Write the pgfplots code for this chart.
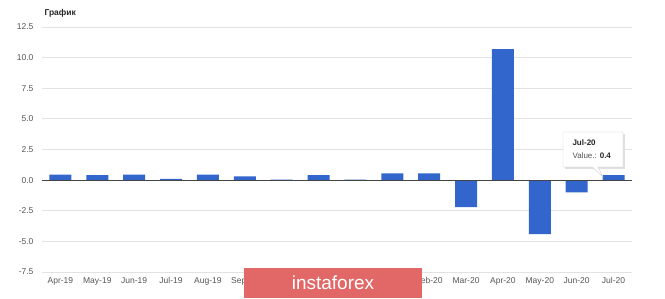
\documentclass[border=0pt]{standalone}
\usepackage{pgfplots}
\pgfplotsset{compat=1.18}
\usepackage{fontspec}
\setmainfont{Liberation Sans}
\definecolor{barblue}{HTML}{3366CC}
\definecolor{gridgray}{HTML}{E2E2E2}
\definecolor{labelgray}{HTML}{555555}
\definecolor{zerogray}{HTML}{444444}
\definecolor{wmred}{HTML}{E26868}
\begin{document}
\begin{tikzpicture}[x=1pt,y=1pt]
\useasboundingbox (0,0) rectangle (665,299);
\begin{axis}[
  at={(42pt,27pt)}, anchor=south west,
  scale only axis, width=590pt, height=245pt,
  xmin=-0.5, xmax=15.5, ymin=-7.5, ymax=12.5,
  axis line style={draw=none},
  ytick={-7.5,-5,-2.5,0,2.5,5,7.5,10,12.5},
  yticklabels={-7.5,-5.0,-2.5,0.0,2.5,5.0,7.5,10.0,12.5},
  xtick={0,...,15},
  xticklabels={Apr-19,May-19,Jun-19,Jul-19,Aug-19,Sep-19,Oct-19,Nov-19,Dec-19,Jan-20,Feb-20,Mar-20,Apr-20,May-20,Jun-20,Jul-20},
  ymajorgrids, grid style={gridgray, line width=0.9pt},
  major tick length=0pt,
  tick label style={font=\fontsize{8.5}{10}\selectfont, text=labelgray},
  yticklabel style={xshift=-5pt},
  xticklabel style={yshift=-2pt},
  clip=false,
]
\addplot[ybar, bar width=22pt, fill=barblue, draw=none] coordinates {
 (0,0.45) (1,0.4) (2,0.45) (3,0.1) (4,0.45) (5,0.3) (6,0.05) (7,0.4)
 (8,0.05) (9,0.55) (10,0.55) (11,-2.2) (12,10.7) (13,-4.4) (14,-1.0) (15,0.4)
};
\addplot[zerogray, line width=0.9pt, no marks] coordinates {(-0.5,0) (15.5,0)};
\end{axis}
% title
\node[anchor=west, font=\bfseries\fontsize{8.5}{10}\selectfont, text=black!85] at (41,286) {График};
% tooltip
\fill[black!12] (565,130) rectangle (625,165);
\draw[black!20, fill=white] (563,132) -- (592,132) -- (603,122) -- (598,132) -- (623,132) -- (623,167) -- (563,167) -- cycle;
\node[anchor=west, font=\bfseries\fontsize{8}{9}\selectfont, text=black!85] at (569,156) {Jul-20};
\node[anchor=west, font=\fontsize{8}{9}\selectfont, text=labelgray] at (569,143) {Value.: \textbf{\textcolor{black!85}{0.4}}};
% watermark
\fill[wmred] (244,1) rectangle (422,31);
\node[font=\fontsize{19}{22}\selectfont, text=white] at (333,16) {instaforex};
\end{tikzpicture}
\end{document}
